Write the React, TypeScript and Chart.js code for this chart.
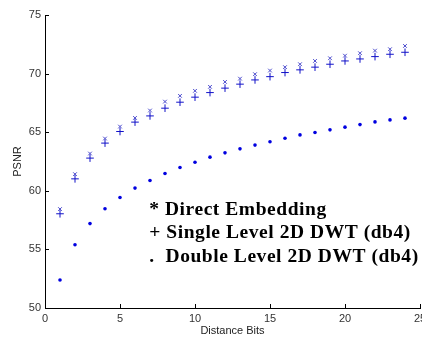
import React, { useEffect, useRef } from 'react';
import { Chart, registerables } from 'chart.js';

Chart.register(...registerables);

const distanceBits = [1, 2, 3, 4, 5, 6, 7, 8, 9, 10, 11, 12, 13, 14, 15, 16, 17, 18, 19, 20, 21, 22, 23, 24];
const directEmbedding = [58.44, 61.42, 63.18, 64.46, 65.48, 66.22, 66.85, 67.61, 68.1, 68.53, 68.87, 69.29, 69.57, 69.95, 70.26, 70.55, 70.8, 71.08, 71.31, 71.53, 71.74, 71.96, 72.08, 72.36];
const singleLevel = [58.04, 61.02, 62.79, 64.07, 65.06, 65.86, 66.39, 67.05, 67.56, 67.99, 68.38, 68.76, 69.1, 69.46, 69.74, 70.09, 70.32, 70.55, 70.8, 71.08, 71.25, 71.45, 71.65, 71.82];
const doubleLevel = [52.39, 55.4, 57.2, 58.47, 59.43, 60.23, 60.88, 61.47, 61.99, 62.44, 62.87, 63.24, 63.58, 63.9, 64.18, 64.49, 64.77, 64.97, 65.2, 65.43, 65.65, 65.88, 66.05, 66.2];
const xTicks = [0, 5, 10, 15, 20, 25];
const yTicks = [50, 55, 60, 65, 70, 75];
const noteLines = ['* Direct Embedding', '+ Single Level 2D DWT (db4)', '.  Double Level 2D DWT (db4)'];
const noteAnchor = { x: 6.95, y: 58.4 };

const toPoints = (ys: number[]) => distanceBits.map((x, i) => ({ x, y: ys[i] }));

const inwardTicks = {
  id: 'inwardTicks',
  afterDraw(chart: any) {
    const { ctx, chartArea } = chart;
    const xs = chart.scales.x;
    const ys = chart.scales.y;
    ctx.save();
    ctx.strokeStyle = '#000';
    ctx.lineWidth = 1;
    xTicks.forEach((v) => {
      const px = Math.round(xs.getPixelForValue(v)) + 0.5;
      ctx.beginPath();
      ctx.moveTo(px, chartArea.bottom);
      ctx.lineTo(px, chartArea.bottom - 4);
      ctx.stroke();
    });
    yTicks.forEach((v) => {
      const py = Math.round(ys.getPixelForValue(v)) + 0.5;
      ctx.beginPath();
      ctx.moveTo(chartArea.left, py);
      ctx.lineTo(chartArea.left + 4, py);
      ctx.stroke();
    });
    // annotation text
    ctx.fillStyle = '#000';
    ctx.font = 'bold 19.5px "Liberation Serif", "Times New Roman", serif';
    try {
      (ctx as any).letterSpacing = '0.55px';
    } catch (e) {}
    ctx.textBaseline = 'middle';
    ctx.textAlign = 'left';
    const ax = xs.getPixelForValue(noteAnchor.x);
    const ay = ys.getPixelForValue(noteAnchor.y);
    noteLines.forEach((t, i) => {
      ctx.fillText(t, ax, ay + i * 23.5);
    });
    ctx.restore();
  },
};

export default function App() {
  const ref = useRef<HTMLCanvasElement>(null);
  useEffect(() => {
    if (!ref.current) return;
    const tickFont = { family: '"Liberation Sans", Arial, sans-serif', size: 11 };
    const chart = new Chart(ref.current, {
      type: 'scatter',
      data: {
        datasets: [
          {
            label: 'Direct Embedding',
            data: toPoints(directEmbedding),
            pointStyle: 'crossRot',
            pointRadius: 2.6,
            borderColor: '#4848cc',
            backgroundColor: '#4848cc',
            borderWidth: 1,
            showLine: false,
          },
          {
            label: 'Single Level 2D DWT (db4)',
            data: toPoints(singleLevel),
            pointStyle: 'cross',
            pointRadius: 3.8,
            borderColor: '#1010c8',
            backgroundColor: '#1010c8',
            borderWidth: 1,
            showLine: false,
          },
          {
            label: 'Double Level 2D DWT (db4)',
            data: toPoints(doubleLevel),
            pointStyle: 'circle',
            pointRadius: 1.8,
            borderColor: '#0000e0',
            backgroundColor: '#0000e0',
            borderWidth: 0,
            showLine: false,
          },
        ],
      },
      options: {
        animation: false,
        responsive: false,
        layout: { autoPadding: false, padding: { left: 0, top: 15, right: 2, bottom: 0 } },
        plugins: { legend: { display: false }, tooltip: { enabled: false } },
        scales: {
          x: {
            type: 'linear',
            min: 0,
            max: 25,
            afterBuildTicks: (s: any) => {
              s.ticks = xTicks.map((v) => ({ value: v }));
            },
            afterFit: (s: any) => {
              s.height = 31;
              s.paddingLeft = 0;
              s.paddingRight = 0;
            },
            grid: { display: true, drawOnChartArea: false, drawTicks: false, color: 'rgba(0,0,0,0)' },
            border: { display: true, color: '#000', width: 1 },
            ticks: { font: tickFont, color: '#333', padding: 4, maxRotation: 0 },
            title: {
              display: true,
              text: 'Distance Bits',
              font: tickFont,
              color: '#222',
              padding: { top: 0, bottom: 1 },
            },
          },
          y: {
            type: 'linear',
            min: 50,
            max: 75,
            afterBuildTicks: (s: any) => {
              s.ticks = yTicks.map((v) => ({ value: v }));
            },
            afterFit: (s: any) => {
              s.width = 45;
              s.paddingTop = 0;
              s.paddingBottom = 0;
            },
            grid: { display: true, drawOnChartArea: false, drawTicks: false, color: 'rgba(0,0,0,0)' },
            border: { display: true, color: '#000', width: 1 },
            ticks: { font: tickFont, color: '#333', padding: 4 },
            title: {
              display: true,
              text: 'PSNR',
              font: tickFont,
              color: '#222',
              padding: { top: 11, bottom: 0 },
            },
          },
        },
      },
      plugins: [inwardTicks],
    });
    return () => chart.destroy();
  }, []);
  return (
    <div style={{ position: 'absolute', left: 0, top: 0, width: 422, height: 339, background: '#fff' }}>
      <canvas ref={ref} width={422} height={339} style={{ display: 'block' }} />
    </div>
  );
}
